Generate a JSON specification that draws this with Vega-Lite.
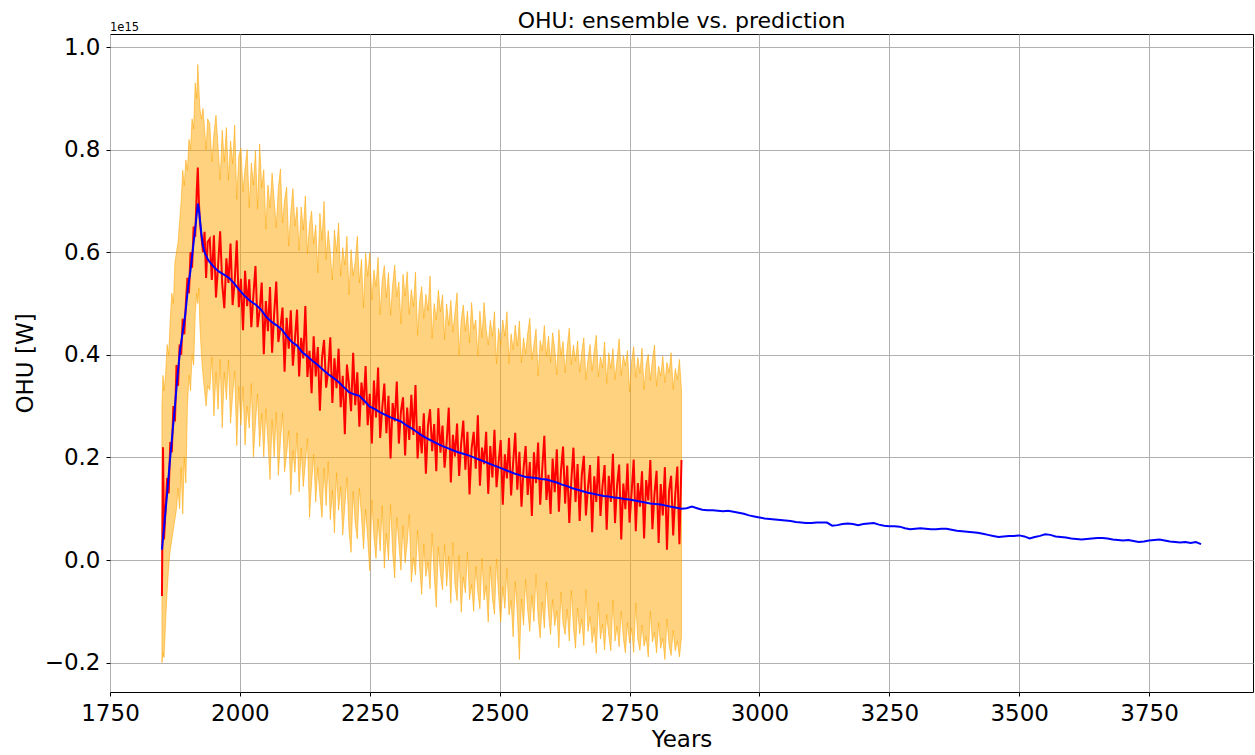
{
  "$schema": "https://vega.github.io/schema/vega-lite/v6.json",
  "width": 1143,
  "height": 658,
  "autosize": {"type": "none"},
  "padding": {"left": 110, "top": 34, "right": 2, "bottom": 63},
  "background": "white",
  "config": {
    "font": "DejaVu Sans",
    "view": {"stroke": "#000000", "strokeWidth": 1},
    "axis": {
      "domain": false,
      "grid": true,
      "gridColor": "#b0b0b0",
      "gridWidth": 1,
      "tickColor": "#000000",
      "tickSize": 4,
      "labelPadding": 6,
      "labelFlush": false,
      "labelFontSize": 23,
      "labelColor": "#000000",
      "titleFontSize": 23,
      "titleFontWeight": "normal",
      "titleColor": "#000000",
      "titlePadding": 3
    }
  },
  "title": {"text": "OHU: ensemble vs. prediction", "fontSize": 22, "fontWeight": "normal", "color": "#000000", "offset": 2, "dy": 13},
  "datasets": {
    "ens": [
      {"t":1850,"m":-0.07,"h":0.30,"l":-0.20},{"t":1852,"m":0.22,"h":0.36,"l":-0.18},{"t":1854,"m":0.04,"h":0.33,"l":-0.19},{"t":1857,"m":0.10,"h":0.36,"l":-0.12},
      {"t":1860,"m":0.16,"h":0.42,"l":-0.06},{"t":1863,"m":0.13,"h":0.40,"l":-0.01},{"t":1866,"m":0.23,"h":0.47,"l":0.02},{"t":1869,"m":0.21,"h":0.52,"l":0.04},
      {"t":1872,"m":0.30,"h":0.50,"l":0.06},{"t":1875,"m":0.27,"h":0.58,"l":0.08},{"t":1878,"m":0.38,"h":0.60,"l":0.10},{"t":1881,"m":0.34,"h":0.62,"l":0.14},
      {"t":1884,"m":0.42,"h":0.66,"l":0.10},{"t":1887,"m":0.40,"h":0.70,"l":0.18},{"t":1890,"m":0.47,"h":0.76,"l":0.09},{"t":1893,"m":0.44,"h":0.73,"l":0.20},
      {"t":1896,"m":0.50,"h":0.78,"l":0.15},{"t":1899,"m":0.55,"h":0.76,"l":0.30},{"t":1902,"m":0.52,"h":0.82,"l":0.36},{"t":1905,"m":0.60,"h":0.80,"l":0.33},
      {"t":1908,"m":0.57,"h":0.86,"l":0.40},{"t":1911,"m":0.65,"h":0.84,"l":0.38},{"t":1914,"m":0.63,"h":0.93,"l":0.48},{"t":1917,"m":0.72,"h":0.90,"l":0.52},
      {"t":1919,"m":0.765,"h":0.966,"l":0.50},{"t":1921,"m":0.70,"h":0.92,"l":0.53},{"t":1923,"m":0.66,"h":0.88,"l":0.46},{"t":1926,"m":0.63,"h":0.86,"l":0.40},
      {"t":1929,"m":0.60,"h":0.88,"l":0.36},{"t":1932,"m":0.64,"h":0.84,"l":0.33},{"t":1935,"m":0.55,"h":0.80,"l":0.30},{"t":1938,"m":0.62,"h":0.86,"l":0.34},
      {"t":1942,"m":0.626,"h":0.851,"l":0.331},{"t":1946,"m":0.546,"h":0.776,"l":0.396},{"t":1950,"m":0.633,"h":0.831,"l":0.281},{"t":1954,"m":0.512,"h":0.867,"l":0.367},
      {"t":1958,"m":0.574,"h":0.804,"l":0.294},{"t":1962,"m":0.641,"h":0.741,"l":0.391},{"t":1966,"m":0.538,"h":0.838,"l":0.258},{"t":1970,"m":0.491,"h":0.776,"l":0.366},
      {"t":1974,"m":0.588,"h":0.843,"l":0.313},{"t":1978,"m":0.540,"h":0.740,"l":0.390},{"t":1982,"m":0.617,"h":0.817,"l":0.267},{"t":1986,"m":0.497,"h":0.772,"l":0.322},
      {"t":1990,"m":0.543,"h":0.848,"l":0.368},{"t":1994,"m":0.623,"h":0.703,"l":0.223},{"t":1998,"m":0.493,"h":0.788,"l":0.338},{"t":2002,"m":0.548,"h":0.803,"l":0.263},
      {"t":2006,"m":0.448,"h":0.718,"l":0.338},{"t":2010,"m":0.564,"h":0.764,"l":0.224},{"t":2014,"m":0.495,"h":0.800,"l":0.300},{"t":2018,"m":0.547,"h":0.687,"l":0.257},
      {"t":2022,"m":0.454,"h":0.774,"l":0.344},{"t":2026,"m":0.516,"h":0.731,"l":0.201},{"t":2030,"m":0.573,"h":0.798,"l":0.268},{"t":2034,"m":0.454,"h":0.684,"l":0.324},
      {"t":2038,"m":0.486,"h":0.811,"l":0.221},{"t":2042,"m":0.541,"h":0.726,"l":0.286},{"t":2046,"m":0.401,"h":0.761,"l":0.201},{"t":2050,"m":0.505,"h":0.645,"l":0.295},
      {"t":2054,"m":0.446,"h":0.731,"l":0.231},{"t":2058,"m":0.532,"h":0.687,"l":0.157},{"t":2062,"m":0.404,"h":0.754,"l":0.274},{"t":2066,"m":0.481,"h":0.701,"l":0.201},
      {"t":2070,"m":0.543,"h":0.648,"l":0.288},{"t":2074,"m":0.425,"h":0.725,"l":0.165},{"t":2078,"m":0.452,"h":0.762,"l":0.231},{"t":2082,"m":0.492,"h":0.657,"l":0.287},
      {"t":2086,"m":0.367,"h":0.702,"l":0.172},{"t":2090,"m":0.472,"h":0.727,"l":0.207},{"t":2094,"m":0.412,"h":0.612,"l":0.252},{"t":2098,"m":0.487,"h":0.677,"l":0.127},
      {"t":2102,"m":0.379,"h":0.724,"l":0.214},{"t":2106,"m":0.431,"h":0.651,"l":0.171},{"t":2110,"m":0.488,"h":0.688,"l":0.248},{"t":2114,"m":0.358,"h":0.603,"l":0.133},
      {"t":2118,"m":0.433,"h":0.688,"l":0.218},{"t":2122,"m":0.393,"h":0.643,"l":0.143},{"t":2126,"m":0.495,"h":0.710,"l":0.189},{"t":2130,"m":0.357,"h":0.597,"l":0.237},
      {"t":2134,"m":0.408,"h":0.653,"l":0.083},{"t":2138,"m":0.325,"h":0.680,"l":0.150},{"t":2142,"m":0.436,"h":0.616,"l":0.206},{"t":2146,"m":0.358,"h":0.653,"l":0.113},
      {"t":2150,"m":0.415,"h":0.560,"l":0.180},{"t":2154,"m":0.291,"h":0.676,"l":0.126},{"t":2158,"m":0.393,"h":0.623,"l":0.083},{"t":2162,"m":0.429,"h":0.699,"l":0.179},
      {"t":2166,"m":0.336,"h":0.586,"l":0.106},{"t":2170,"m":0.367,"h":0.642,"l":0.192},{"t":2174,"m":0.434,"h":0.599,"l":0.079},{"t":2178,"m":0.306,"h":0.546,"l":0.136},
      {"t":2182,"m":0.393,"h":0.643,"l":0.053},{"t":2186,"m":0.335,"h":0.600,"l":0.170},{"t":2190,"m":0.412,"h":0.657,"l":0.097},{"t":2194,"m":0.298,"h":0.553,"l":0.143},
      {"t":2198,"m":0.359,"h":0.609,"l":0.049},{"t":2202,"m":0.245,"h":0.575,"l":0.105},{"t":2206,"m":0.381,"h":0.631,"l":0.161},{"t":2210,"m":0.342,"h":0.517,"l":0.057},
      {"t":2214,"m":0.290,"h":0.605,"l":0.015},{"t":2218,"m":0.404,"h":0.554,"l":0.134},{"t":2222,"m":0.302,"h":0.582,"l":0.072},{"t":2226,"m":0.366,"h":0.631,"l":0.041},
      {"t":2230,"m":0.260,"h":0.540,"l":0.140},{"t":2234,"m":0.346,"h":0.586,"l":0.086},{"t":2238,"m":0.302,"h":0.492,"l":0.022},{"t":2242,"m":0.378,"h":0.598,"l":0.099},
      {"t":2246,"m":0.263,"h":0.553,"l":0.043},{"t":2250,"m":0.324,"h":0.599,"l":-0.021},{"t":2254,"m":0.227,"h":0.507,"l":0.117},{"t":2258,"m":0.350,"h":0.565,"l":0.045},
      {"t":2262,"m":0.278,"h":0.533,"l":0.003},{"t":2266,"m":0.375,"h":0.590,"l":0.080},{"t":2270,"m":0.238,"h":0.478,"l":0.018},{"t":2274,"m":0.296,"h":0.546,"l":0.106},
      {"t":2278,"m":0.344,"h":0.574,"l":-0.016},{"t":2282,"m":0.247,"h":0.512,"l":0.052},{"t":2286,"m":0.320,"h":0.560,"l":0.000},{"t":2290,"m":0.198,"h":0.477,"l":0.108},
      {"t":2294,"m":0.306,"h":0.536,"l":0.016},{"t":2298,"m":0.270,"h":0.575,"l":-0.035},{"t":2302,"m":0.348,"h":0.513,"l":0.083},{"t":2306,"m":0.227,"h":0.542,"l":0.032},
      {"t":2310,"m":0.290,"h":0.460,"l":-0.020},{"t":2314,"m":0.317,"h":0.557,"l":0.067},{"t":2318,"m":0.204,"h":0.514,"l":-0.006},{"t":2322,"m":0.297,"h":0.562,"l":0.032},
      {"t":2326,"m":0.234,"h":0.479,"l":0.089},{"t":2330,"m":0.322,"h":0.527,"l":-0.043},{"t":2334,"m":0.244,"h":0.494,"l":0.004},{"t":2338,"m":0.341,"h":0.561,"l":-0.029},
      {"t":2342,"m":0.198,"h":0.438,"l":0.058},{"t":2346,"m":0.261,"h":0.506,"l":-0.014},{"t":2350,"m":0.208,"h":0.533,"l":-0.067},{"t":2354,"m":0.286,"h":0.471,"l":0.031},
      {"t":2358,"m":0.168,"h":0.518,"l":-0.032},{"t":2362,"m":0.261,"h":0.486,"l":-0.004},{"t":2366,"m":0.294,"h":0.554,"l":-0.056},{"t":2370,"m":0.212,"h":0.432,"l":0.052},
      {"t":2374,"m":0.265,"h":0.500,"l":-0.030},{"t":2378,"m":0.173,"h":0.468,"l":-0.092},{"t":2382,"m":0.296,"h":0.526,"l":0.026},{"t":2386,"m":0.209,"h":0.484,"l":-0.026},
      {"t":2390,"m":0.262,"h":0.517,"l":-0.058},{"t":2394,"m":0.180,"h":0.430,"l":0.030},{"t":2398,"m":0.229,"h":0.499,"l":-0.051},{"t":2402,"m":0.297,"h":0.457,"l":0.007},
      {"t":2406,"m":0.151,"h":0.506,"l":-0.084},{"t":2410,"m":0.244,"h":0.444,"l":0.034},{"t":2414,"m":0.202,"h":0.482,"l":-0.048},{"t":2418,"m":0.266,"h":0.521,"l":-0.079},
      {"t":2422,"m":0.164,"h":0.399,"l":0.009},{"t":2426,"m":0.228,"h":0.468,"l":-0.102},{"t":2430,"m":0.272,"h":0.497,"l":-0.033},{"t":2434,"m":0.176,"h":0.446,"l":-0.064},
      {"t":2438,"m":0.250,"h":0.485,"l":0.015},{"t":2442,"m":0.128,"h":0.423,"l":-0.077},{"t":2446,"m":0.217,"h":0.502,"l":-0.048},{"t":2450,"m":0.250,"h":0.450,"l":-0.100},
      {"t":2454,"m":0.178,"h":0.468,"l":-0.012},{"t":2458,"m":0.282,"h":0.397,"l":-0.063},{"t":2462,"m":0.145,"h":0.485,"l":-0.095},{"t":2466,"m":0.219,"h":0.434,"l":0.004},
      {"t":2470,"m":0.187,"h":0.502,"l":-0.078},{"t":2474,"m":0.250,"h":0.450,"l":-0.050},{"t":2478,"m":0.129,"h":0.419,"l":-0.121},{"t":2482,"m":0.222,"h":0.467,"l":-0.012},
      {"t":2486,"m":0.161,"h":0.436,"l":-0.074},{"t":2490,"m":0.254,"h":0.484,"l":-0.106},{"t":2494,"m":0.142,"h":0.382,"l":0.002},{"t":2498,"m":0.191,"h":0.451,"l":-0.069},
      {"t":2502,"m":0.234,"h":0.419,"l":-0.121},{"t":2506,"m":0.108,"h":0.468,"l":-0.052},{"t":2510,"m":0.206,"h":0.436,"l":-0.094},{"t":2514,"m":0.159,"h":0.484,"l":-0.016},
      {"t":2518,"m":0.238,"h":0.383,"l":-0.107},{"t":2522,"m":0.126,"h":0.441,"l":-0.079},{"t":2526,"m":0.190,"h":0.410,"l":-0.150},{"t":2530,"m":0.248,"h":0.458,"l":-0.042},
      {"t":2534,"m":0.137,"h":0.417,"l":-0.103},{"t":2538,"m":0.211,"h":0.466,"l":-0.194},{"t":2542,"m":0.104,"h":0.384,"l":-0.076},{"t":2546,"m":0.178,"h":0.433,"l":-0.127},
      {"t":2550,"m":0.222,"h":0.402,"l":-0.038},{"t":2554,"m":0.127,"h":0.442,"l":-0.098},{"t":2558,"m":0.191,"h":0.471,"l":-0.139},{"t":2562,"m":0.086,"h":0.391,"l":-0.069},
      {"t":2566,"m":0.210,"h":0.420,"l":-0.120},{"t":2570,"m":0.150,"h":0.450,"l":-0.028},{"t":2574,"m":0.229,"h":0.359,"l":-0.111},{"t":2578,"m":0.108,"h":0.428,"l":-0.152},
      {"t":2582,"m":0.178,"h":0.408,"l":-0.082},{"t":2586,"m":0.242,"h":0.457,"l":-0.133},{"t":2590,"m":0.117,"h":0.397,"l":-0.043},{"t":2594,"m":0.166,"h":0.436,"l":-0.104},
      {"t":2598,"m":0.090,"h":0.385,"l":-0.145},{"t":2602,"m":0.198,"h":0.443,"l":-0.077},{"t":2606,"m":0.132,"h":0.412,"l":-0.128},{"t":2610,"m":0.216,"h":0.361,"l":-0.099},
      {"t":2614,"m":0.094,"h":0.449,"l":-0.171},{"t":2618,"m":0.173,"h":0.398,"l":-0.062},{"t":2622,"m":0.221,"h":0.426,"l":-0.124},{"t":2626,"m":0.110,"h":0.365,"l":-0.145},
      {"t":2630,"m":0.184,"h":0.414,"l":-0.096},{"t":2634,"m":0.072,"h":0.452,"l":-0.158},{"t":2638,"m":0.156,"h":0.381,"l":-0.059},{"t":2642,"m":0.219,"h":0.419,"l":-0.131},
      {"t":2646,"m":0.113,"h":0.388,"l":-0.172},{"t":2650,"m":0.187,"h":0.427,"l":-0.093},{"t":2654,"m":0.076,"h":0.366,"l":-0.144},{"t":2658,"m":0.165,"h":0.405,"l":-0.115},
      {"t":2662,"m":0.203,"h":0.433,"l":-0.167},{"t":2666,"m":0.087,"h":0.352,"l":-0.058},{"t":2670,"m":0.141,"h":0.391,"l":-0.139},{"t":2674,"m":0.185,"h":0.420,"l":-0.110},
      {"t":2678,"m":0.054,"h":0.369,"l":-0.161},{"t":2682,"m":0.163,"h":0.408,"l":-0.132},{"t":2686,"m":0.113,"h":0.438,"l":-0.182},{"t":2690,"m":0.202,"h":0.357,"l":-0.083},
      {"t":2694,"m":0.086,"h":0.396,"l":-0.154},{"t":2698,"m":0.145,"h":0.375,"l":-0.125},{"t":2702,"m":0.185,"h":0.425,"l":-0.175},{"t":2706,"m":0.059,"h":0.344,"l":-0.106},
      {"t":2710,"m":0.164,"h":0.404,"l":-0.146},{"t":2714,"m":0.113,"h":0.373,"l":-0.177},{"t":2718,"m":0.207,"h":0.412,"l":-0.078},{"t":2722,"m":0.072,"h":0.352,"l":-0.158},
      {"t":2726,"m":0.146,"h":0.391,"l":-0.129},{"t":2730,"m":0.186,"h":0.431,"l":-0.169},{"t":2734,"m":0.040,"h":0.360,"l":-0.100},{"t":2738,"m":0.149,"h":0.399,"l":-0.151},
      {"t":2742,"m":0.099,"h":0.379,"l":-0.181},{"t":2746,"m":0.188,"h":0.408,"l":-0.122},{"t":2750,"m":0.073,"h":0.328,"l":-0.162},{"t":2754,"m":0.132,"h":0.387,"l":-0.133},
      {"t":2758,"m":0.196,"h":0.416,"l":-0.180},{"t":2762,"m":0.056,"h":0.356,"l":-0.084},{"t":2766,"m":0.150,"h":0.395,"l":-0.155},{"t":2770,"m":0.104,"h":0.364,"l":-0.176},
      {"t":2774,"m":0.173,"h":0.413,"l":-0.127},{"t":2778,"m":0.042,"h":0.332,"l":-0.168},{"t":2782,"m":0.156,"h":0.381,"l":-0.149},{"t":2786,"m":0.116,"h":0.401,"l":-0.189},
      {"t":2790,"m":0.195,"h":0.350,"l":-0.100},{"t":2794,"m":0.060,"h":0.390,"l":-0.160},{"t":2798,"m":0.129,"h":0.419,"l":-0.141},{"t":2802,"m":0.174,"h":0.339,"l":-0.181},
      {"t":2806,"m":0.033,"h":0.378,"l":-0.122},{"t":2810,"m":0.148,"h":0.358,"l":-0.172},{"t":2814,"m":0.087,"h":0.397,"l":-0.153},{"t":2818,"m":0.181,"h":0.346,"l":-0.194},
      {"t":2822,"m":0.020,"h":0.385,"l":-0.115},{"t":2826,"m":0.135,"h":0.365,"l":-0.165},{"t":2830,"m":0.164,"h":0.404,"l":-0.186},{"t":2834,"m":0.048,"h":0.333,"l":-0.137},
      {"t":2838,"m":0.128,"h":0.373,"l":-0.177},{"t":2842,"m":0.182,"h":0.352,"l":-0.158},{"t":2846,"m":0.031,"h":0.391,"l":-0.189},{"t":2850,"m":0.195,"h":0.330,"l":-0.150}
    ],
    "pred": [
      {"t":1850,"p":0.02},{"t":1855,"p":0.075},{"t":1860,"p":0.13},{"t":1865,"p":0.19},{"t":1870,"p":0.245},{"t":1875,"p":0.30},{"t":1880,"p":0.36},{"t":1885,"p":0.41},
      {"t":1890,"p":0.445},{"t":1895,"p":0.48},{"t":1900,"p":0.53},{"t":1905,"p":0.565},{"t":1910,"p":0.61},{"t":1915,"p":0.655},{"t":1919,"p":0.695},{"t":1921,"p":0.685},
      {"t":1923,"p":0.665},{"t":1926,"p":0.635},{"t":1929,"p":0.612},{"t":1933,"p":0.597},{"t":1939,"p":0.585},{"t":1945,"p":0.577},{"t":1952,"p":0.569},{"t":1960,"p":0.562},
      {"t":1970,"p":0.556},{"t":1980,"p":0.549},{"t":1990,"p":0.538},{"t":2000,"p":0.525},{"t":2010,"p":0.514},{"t":2020,"p":0.505},{"t":2030,"p":0.498},{"t":2040,"p":0.489},
      {"t":2050,"p":0.475},{"t":2060,"p":0.465},{"t":2070,"p":0.458},{"t":2080,"p":0.45},{"t":2090,"p":0.437},{"t":2100,"p":0.425},{"t":2110,"p":0.418},{"t":2120,"p":0.405},
      {"t":2130,"p":0.397},{"t":2140,"p":0.388},{"t":2150,"p":0.380},{"t":2160,"p":0.371},{"t":2170,"p":0.362},{"t":2180,"p":0.355},{"t":2190,"p":0.347},{"t":2200,"p":0.337},
      {"t":2210,"p":0.327},{"t":2220,"p":0.323},{"t":2230,"p":0.32},{"t":2240,"p":0.31},{"t":2250,"p":0.299},{"t":2260,"p":0.294},{"t":2270,"p":0.288},{"t":2280,"p":0.283},
      {"t":2290,"p":0.278},{"t":2300,"p":0.274},{"t":2310,"p":0.27},{"t":2320,"p":0.263},{"t":2330,"p":0.257},{"t":2340,"p":0.25},{"t":2350,"p":0.243},{"t":2360,"p":0.237},
      {"t":2370,"p":0.232},{"t":2380,"p":0.227},{"t":2390,"p":0.222},{"t":2400,"p":0.218},{"t":2410,"p":0.214},{"t":2420,"p":0.21},{"t":2430,"p":0.207},{"t":2440,"p":0.204},
      {"t":2450,"p":0.2},{"t":2460,"p":0.196},{"t":2470,"p":0.192},{"t":2480,"p":0.188},{"t":2490,"p":0.184},{"t":2500,"p":0.18},{"t":2510,"p":0.176},{"t":2520,"p":0.172},
      {"t":2530,"p":0.168},{"t":2540,"p":0.165},{"t":2550,"p":0.162},{"t":2560,"p":0.161},{"t":2570,"p":0.16},{"t":2580,"p":0.158},{"t":2590,"p":0.157},{"t":2600,"p":0.154},
      {"t":2610,"p":0.151},{"t":2620,"p":0.147},{"t":2630,"p":0.144},{"t":2640,"p":0.14},{"t":2650,"p":0.137},{"t":2660,"p":0.134},{"t":2670,"p":0.131},{"t":2680,"p":0.129},
      {"t":2690,"p":0.127},{"t":2700,"p":0.125},{"t":2710,"p":0.124},{"t":2720,"p":0.122},{"t":2730,"p":0.121},{"t":2740,"p":0.119},{"t":2750,"p":0.118},{"t":2760,"p":0.116},
      {"t":2770,"p":0.114},{"t":2780,"p":0.112},{"t":2790,"p":0.11},{"t":2800,"p":0.109},{"t":2810,"p":0.108},{"t":2820,"p":0.106},{"t":2830,"p":0.104},{"t":2840,"p":0.102},
      {"t":2850,"p":0.1},{"t":2860,"p":0.101},{"t":2870,"p":0.104},{"t":2880,"p":0.101},{"t":2890,"p":0.098},{"t":2900,"p":0.097},{"t":2910,"p":0.097},{"t":2920,"p":0.096},
      {"t":2930,"p":0.095},{"t":2940,"p":0.096},{"t":2950,"p":0.094},{"t":2960,"p":0.092},{"t":2970,"p":0.09},{"t":2980,"p":0.087},{"t":2990,"p":0.085},{"t":3000,"p":0.083},
      {"t":3010,"p":0.081},{"t":3020,"p":0.08},{"t":3030,"p":0.079},{"t":3040,"p":0.078},{"t":3050,"p":0.077},{"t":3060,"p":0.076},{"t":3070,"p":0.074},{"t":3080,"p":0.073},
      {"t":3090,"p":0.072},{"t":3100,"p":0.072},{"t":3110,"p":0.073},{"t":3120,"p":0.073},{"t":3130,"p":0.073},{"t":3140,"p":0.067},{"t":3150,"p":0.068},{"t":3160,"p":0.07},
      {"t":3170,"p":0.071},{"t":3180,"p":0.07},{"t":3190,"p":0.068},{"t":3200,"p":0.07},{"t":3210,"p":0.071},{"t":3220,"p":0.072},{"t":3230,"p":0.069},{"t":3240,"p":0.067},
      {"t":3250,"p":0.066},{"t":3260,"p":0.066},{"t":3270,"p":0.065},{"t":3280,"p":0.062},{"t":3290,"p":0.06},{"t":3300,"p":0.061},{"t":3310,"p":0.062},{"t":3320,"p":0.061},
      {"t":3330,"p":0.06},{"t":3340,"p":0.06},{"t":3350,"p":0.061},{"t":3360,"p":0.061},{"t":3370,"p":0.059},{"t":3380,"p":0.057},{"t":3390,"p":0.056},{"t":3400,"p":0.055},
      {"t":3410,"p":0.054},{"t":3420,"p":0.053},{"t":3430,"p":0.051},{"t":3440,"p":0.049},{"t":3450,"p":0.047},{"t":3460,"p":0.045},{"t":3470,"p":0.046},{"t":3480,"p":0.047},
      {"t":3490,"p":0.047},{"t":3500,"p":0.048},{"t":3510,"p":0.046},{"t":3520,"p":0.042},{"t":3530,"p":0.045},{"t":3540,"p":0.047},{"t":3550,"p":0.05},{"t":3560,"p":0.049},
      {"t":3570,"p":0.046},{"t":3580,"p":0.045},{"t":3590,"p":0.044},{"t":3600,"p":0.042},{"t":3610,"p":0.041},{"t":3620,"p":0.04},{"t":3630,"p":0.041},{"t":3640,"p":0.042},
      {"t":3650,"p":0.043},{"t":3660,"p":0.043},{"t":3670,"p":0.042},{"t":3680,"p":0.04},{"t":3690,"p":0.039},{"t":3700,"p":0.038},{"t":3710,"p":0.039},{"t":3720,"p":0.037},
      {"t":3730,"p":0.035},{"t":3740,"p":0.036},{"t":3750,"p":0.038},{"t":3760,"p":0.039},{"t":3770,"p":0.04},{"t":3780,"p":0.038},{"t":3790,"p":0.036},{"t":3800,"p":0.035},
      {"t":3810,"p":0.034},{"t":3820,"p":0.035},{"t":3830,"p":0.033},{"t":3840,"p":0.035},{"t":3850,"p":0.031}
    ]
  },
  "layer": [
    {
      "data": {"name": "ens"},
      "mark": {"type": "area", "color": "orange", "fillOpacity": 0.5, "stroke": "orange", "strokeWidth": 1, "strokeOpacity": 0.55},
      "encoding": {
        "x": {"field": "t", "type": "quantitative", "scale": {"domain": [1750, 3950], "nice": false, "zero": false},
              "axis": {"values": [1750, 2000, 2250, 2500, 2750, 3000, 3250, 3500, 3750], "format": "d", "title": "Years"}},
        "y": {"field": "l", "type": "quantitative", "scale": {"domain": [-0.2573, 1.0254], "nice": false, "zero": false},
              "axis": {"values": [-0.2, 0, 0.2, 0.4, 0.6, 0.8, 1.0], "format": ".1f", "title": "OHU [W]", "titlePadding": 7}},
        "y2": {"field": "h"}
      }
    },
    {
      "data": {"name": "ens"},
      "mark": {"type": "line", "color": "red", "strokeWidth": 2},
      "encoding": {
        "x": {"field": "t", "type": "quantitative"},
        "y": {"field": "m", "type": "quantitative"}
      }
    },
    {
      "data": {"name": "pred"},
      "mark": {"type": "line", "color": "blue", "strokeWidth": 2},
      "encoding": {
        "x": {"field": "t", "type": "quantitative"},
        "y": {"field": "p", "type": "quantitative"}
      }
    },
    {
      "data": {"values": [{"lab": "1e15"}]},
      "mark": {"type": "text", "align": "left", "baseline": "bottom", "fontSize": 11.5, "dy": -1, "color": "#000000"},
      "encoding": {
        "x": {"datum": 1750, "type": "quantitative"},
        "y": {"datum": 1.0254, "type": "quantitative"},
        "text": {"field": "lab"}
      }
    }
  ]
}
